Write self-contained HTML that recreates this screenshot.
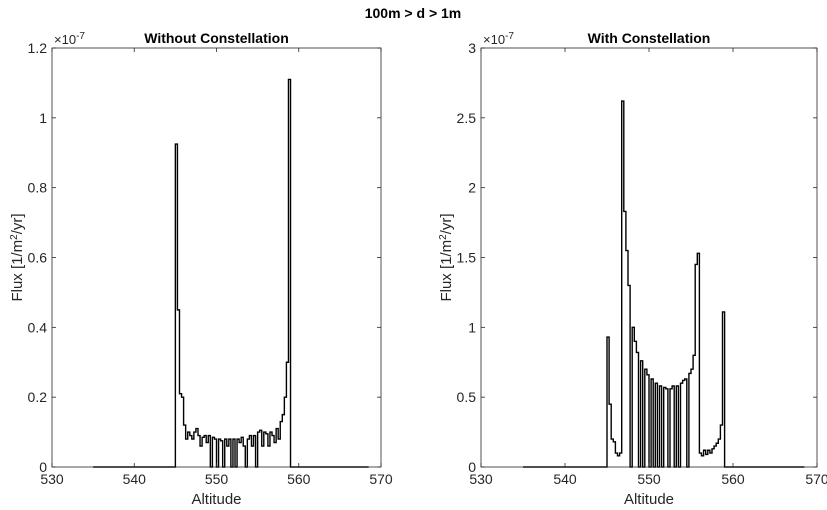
<!DOCTYPE html>
<html><head><meta charset="utf-8"><style>
body{margin:0;background:#fff;}
svg{display:block;font-family:"Liberation Sans",Arial,sans-serif;}
</style></head><body>
<svg id="c" width="827" height="510"></svg>
<script>
const binStart = 545, binWidth = 0.25;
const baseRange = [535, 568.5];
const leftValues = [0.925,0.45,0.21,0.20,0.12,0.08,0.10,0.09,0.08,0.10,0.11,0.09,0.06,0.085,0.09,0.07,0.09,0,0.085,0.08,0,0.08,0.075,0,0.08,0.06,0.08,0,0.08,0,0.08,0.07,0.085,0.06,0,0.08,0.09,0.06,0.09,0,0.10,0.105,0.06,0.10,0.095,0.06,0.10,0.09,0.07,0.11,0.08,0.13,0.15,0.20,0.30,1.11];
const rightValues = [0.93,0.45,0.20,0.18,0.10,0.08,0.10,2.62,1.83,1.55,1.30,0,1.00,0.90,0.82,0,0.76,0,0.70,0.66,0,0.63,0,0.60,0,0.58,0,0.57,0.56,0,0.56,0.58,0,0.58,0,0.60,0.62,0.63,0,0.67,0.70,0.80,1.45,1.53,0.10,0.08,0.12,0.09,0.12,0.10,0.13,0.15,0.17,0.20,0.30,1.11];
const xTicks = [530,540,550,560,570];
const leftYTicks = [0,0.2,0.4,0.6,0.8,1,1.2];
const rightYTicks = [0,0.5,1,1.5,2,2.5,3];

const NS="http://www.w3.org/2000/svg";
const svg=document.getElementById('c');
function mk(tag,attrs,parent){const e=document.createElementNS(NS,tag);for(const k in attrs)e.setAttribute(k,attrs[k]);(parent||svg).appendChild(e);return e;}

const t=mk('text',{x:413,y:18,'text-anchor':'middle','font-size':14,'font-weight':'bold'});


t.textContent='100m > d > 1m';

function panel(name,x0,x1,y0,y1,ymax,yticks,vals,title,ylx){
  const g=mk('g',{});
  
  
  const sx=v=>x0+(v-530)/40*(x1-x0);
  const sy=v=>y1-v/ymax*(y1-y0);
  // step path
  let d=`M${sx(baseRange[0])},${sy(0)} L${sx(binStart)},${sy(0)}`;
  vals.forEach((v,i)=>{const a=binStart+i*binWidth,b=a+binWidth;d+=` L${sx(a)},${sy(v)} L${sx(b)},${sy(v)}`;});
  const end=binStart+vals.length*binWidth;
  d+=` L${sx(end)},${sy(0)} L${sx(baseRange[1])},${sy(0)}`;
  const p=mk('path',{d:d,fill:'none',stroke:'#000','stroke-width':1.4,'stroke-linejoin':'miter'},g);
  
  
  const box=mk('rect',{x:x0,y:y0,width:x1-x0,height:y1-y0,fill:'none',stroke:'#262626','stroke-width':0.8},g);
  
  
  xTicks.forEach(v=>{
    mk('line',{x1:sx(v),x2:sx(v),y1:y1,y2:y1-4,stroke:'#262626','stroke-width':0.8},g);
    mk('line',{x1:sx(v),x2:sx(v),y1:y0,y2:y0+4,stroke:'#262626','stroke-width':0.8},g);
    const tl=mk('text',{x:sx(v),y:y1+17,'text-anchor':'middle','font-size':14,fill:'#262626'},g);
    
    
    tl.textContent=v;
  });
  yticks.forEach(v=>{
    mk('line',{x1:x0,x2:x0+4,y1:sy(v),y2:sy(v),stroke:'#262626','stroke-width':0.8},g);
    mk('line',{x1:x1,x2:x1-4,y1:sy(v),y2:sy(v),stroke:'#262626','stroke-width':0.8},g);
    const tl=mk('text',{x:x0-5,y:sy(v)+5,'text-anchor':'end','font-size':14,fill:'#262626'},g);
    
    
    tl.textContent=v;
  });
  const ex=mk('text',{x:x0+2,y:y0-4,'font-size':13,fill:'#262626'},g);
  
  
  ex.innerHTML='×10<tspan dy="-5" font-size="10">-7</tspan>';
  const tt=mk('text',{x:(x0+x1)/2,y:y0-5,'text-anchor':'middle','font-size':14,'font-weight':'bold'},g);
  
  
  tt.textContent=title;
  const xl=mk('text',{x:(x0+x1)/2,y:y1+37,'text-anchor':'middle','font-size':15,fill:'#262626'},g);
  
  
  xl.textContent='Altitude';
  const yl=mk('text',{x:ylx,y:(y0+y1)/2,'text-anchor':'middle','font-size':15,fill:'#262626',transform:`rotate(-90 ${ylx} ${(y0+y1)/2})`},g);
  
  
  yl.innerHTML='Flux [1/m<tspan dy="-5" font-size="10">2</tspan><tspan dy="5">/yr]</tspan>';
}
panel('left-panel',52,381,48,467,1.2,leftYTicks,leftValues,'Without Constellation',22);
panel('right-panel',481,817,48,467,3,rightYTicks,rightValues,'With Constellation',451);
</script>
</body></html>
